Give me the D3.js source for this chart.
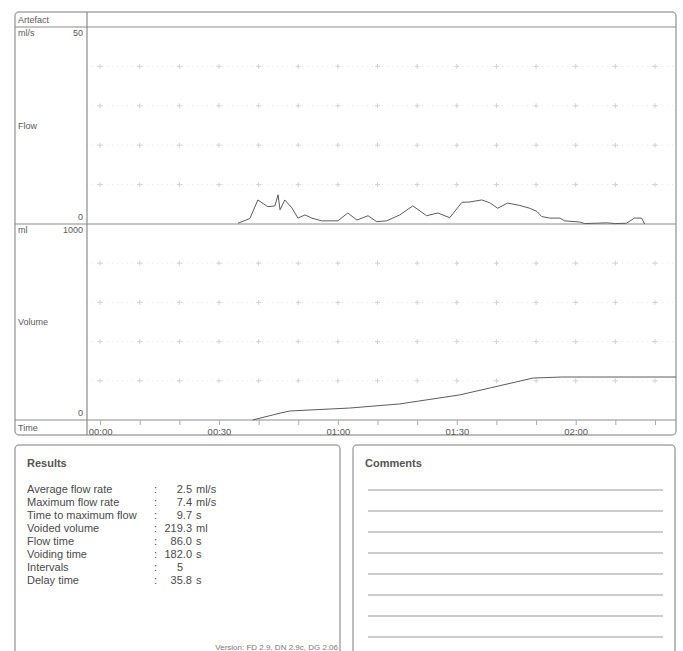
<!DOCTYPE html>
<html>
<head>
<meta charset="utf-8">
<script src="https://cdn.jsdelivr.net/npm/d3@7"></script>
<style>
  body { margin: 0; background: #fff; }
  svg { font-family: "Liberation Sans", Arial, sans-serif; }
</style>
</head>
<body>
<div id="chart"></div>
<script>
// flow curve (s, ml/s)
const flowTime = [34.8, 37.8, 39.8, 42.3, 44.1, 44.9, 45.4, 46.6, 48.4, 49.9, 51.7, 53.4, 55.9, 60.0, 62.5, 64.8, 67.6, 69.8, 72.3, 75.6, 78.9, 82.4, 85.2, 88.2, 91.3, 93.3, 96.3, 98.3, 100.3, 102.8, 105.9, 108.4, 110.2, 111.4, 113.4, 116.0, 117.2, 121.0, 122.3, 127.8, 130.0, 132.8, 134.8, 136.6, 137.4];
const flowRate = [0.2, 1.4, 6.1, 4.4, 4.6, 7.4, 3.6, 6.1, 4.1, 1.5, 2.3, 1.5, 0.8, 0.8, 2.8, 1.0, 2.1, 0.6, 0.8, 2.3, 4.6, 2.1, 2.8, 1.6, 5.5, 5.6, 6.1, 5.4, 4.0, 5.3, 4.7, 4.0, 3.2, 1.9, 1.5, 1.5, 0.8, 0.5, 0.1, 0.3, 0.1, 0.2, 1.5, 1.5, 0];

// voided volume (s, ml)
const volTime = [38.5, 45.4, 47.9, 63.0, 75.6, 90.7, 98.3, 109.2, 116.5, 145.3];
const volValue = [0, 35, 46, 61, 82, 128, 163, 214, 219.3, 219.3];

const timeTicks = d3.range(0, 141, 10);
const flowGrid = [10, 20, 30, 40];
const volGrid = [200, 400, 600, 800];

const resultLabels = ["Average flow rate", "Maximum flow rate", "Time to maximum flow", "Voided volume", "Flow time", "Voiding time", "Intervals", "Delay time"];
const resultValues = ["2.5", "7.4", "9.7", "219.3", "86.0", "182.0", "5", "35.8"];
const resultUnits = ["ml/s", "ml/s", "s", "ml", "s", "s", "", "s"];
const commentLines = 8;

const W = 683, H = 651;
const svg = d3.select("#chart").append("svg").attr("width", W).attr("height", H);

const frameL = 15, frameR = 676, split = 87;
const frameT = 12, artefactY = 27, midY = 224, timeY = 420, frameB = 435;

const x = d3.scaleLinear().domain([-3.3, 145.3]).range([split, frameR]);
const yFlow = d3.scaleLinear().domain([0, 50]).range([midY, artefactY]);
const yVol = d3.scaleLinear().domain([0, 1000]).range([timeY, midY]);

const lineCol = "#8c8c8c", textCol = "#5a5a5a";

// grid: faint dotted rows + small crosses
const grid = svg.append("g");
function gridBlock(scaleY, values) {
  values.forEach(v => {
    grid.append("line")
      .attr("x1", split).attr("x2", frameR)
      .attr("y1", scaleY(v)).attr("y2", scaleY(v))
      .attr("stroke", "#e6e6e6").attr("stroke-dasharray", "1,4");
    timeTicks.forEach(t => {
      const cx = x(t), cy = scaleY(v);
      grid.append("path")
        .attr("d", `M${cx - 2.5},${cy}H${cx + 2.5}M${cx},${cy - 2.5}V${cy + 2.5}`)
        .attr("stroke", "#d2d2d2").attr("stroke-width", 1);
    });
  });
}
gridBlock(yFlow, flowGrid);
gridBlock(yVol, volGrid);

// frame
svg.append("rect")
  .attr("x", frameL).attr("y", frameT).attr("width", frameR - frameL).attr("height", frameB - frameT)
  .attr("rx", 4).attr("fill", "none").attr("stroke", "#a8a8a8").attr("stroke-width", 1.5);
[artefactY, midY, timeY].forEach(yy => {
  svg.append("line").attr("x1", frameL).attr("x2", frameR).attr("y1", yy).attr("y2", yy)
    .attr("stroke", lineCol).attr("stroke-width", 1.2);
});
svg.append("line").attr("x1", split).attr("x2", split).attr("y1", frameT).attr("y2", frameB)
  .attr("stroke", lineCol).attr("stroke-width", 1.2);

// left labels
const lab = svg.append("g").attr("fill", textCol).attr("font-size", 9);
lab.append("text").attr("x", 18).attr("y", 23).text("Artefact");
lab.append("text").attr("x", 18).attr("y", yFlow(50) + 9).text("ml/s");
lab.append("text").attr("x", 83).attr("y", yFlow(50) + 9).attr("text-anchor", "end").text("50");
lab.append("text").attr("x", 18).attr("y", yFlow(25) + 3).text("Flow");
lab.append("text").attr("x", 83).attr("y", yFlow(0) - 4).attr("text-anchor", "end").text("0");
lab.append("text").attr("x", 18).attr("y", yVol(1000) + 9).text("ml");
lab.append("text").attr("x", 83).attr("y", yVol(1000) + 9).attr("text-anchor", "end").text("1000");
lab.append("text").attr("x", 18).attr("y", yVol(500) + 3).text("Volume");
lab.append("text").attr("x", 83).attr("y", yVol(0) - 4).attr("text-anchor", "end").text("0");
lab.append("text").attr("x", 18).attr("y", 431).text("Time");

// time axis
const fmt = t => d3.format("02")(Math.floor(t / 60)) + ":" + d3.format("02")(t % 60);
const axis = svg.append("g").attr("transform", `translate(0,${timeY})`)
  .call(d3.axisBottom(x).tickValues(timeTicks).tickSize(5).tickPadding(3)
    .tickFormat(t => t % 30 === 0 ? fmt(t) : ""));
axis.select(".domain").remove();
axis.selectAll("line").attr("stroke", "#aaa");
axis.selectAll("text").attr("fill", textCol).attr("font-size", 9.5).attr("font-family", "Liberation Sans, Arial");

// curves
const flowData = flowTime.map((t, i) => [t, flowRate[i]]);
const volData = volTime.map((t, i) => [t, volValue[i]]);
svg.append("path").datum(flowData)
  .attr("d", d3.line().x(d => x(d[0])).y(d => yFlow(d[1])))
  .attr("fill", "none").attr("stroke", "#5c5c5c").attr("stroke-width", 1);
svg.append("path").datum(volData)
  .attr("d", d3.line().x(d => x(d[0])).y(d => yVol(d[1])))
  .attr("fill", "none").attr("stroke", "#5c5c5c").attr("stroke-width", 1);

// results box
svg.append("rect").attr("x", 15).attr("y", 445).attr("width", 325).attr("height", 220)
  .attr("rx", 4).attr("fill", "none").attr("stroke", "#a8a8a8").attr("stroke-width", 1.5);
svg.append("text").attr("x", 27).attr("y", 467).attr("font-size", 11).attr("font-weight", "bold")
  .attr("fill", "#555").text("Results");
const res = svg.append("g").attr("fill", "#4a4a4a").attr("font-size", 11);
const rowY = d3.scaleLinear().domain([0, 7]).range([493, 584]);
resultLabels.forEach((l, i) => {
  res.append("text").attr("x", 27).attr("y", rowY(i)).text(l);
  res.append("text").attr("x", 154).attr("y", rowY(i)).text(":");
  const v = resultValues[i];
  res.append("text").attr("x", v.includes(".") ? 192 : 183).attr("y", rowY(i))
    .attr("text-anchor", "end").text(v);
  res.append("text").attr("x", 196).attr("y", rowY(i)).text(resultUnits[i]);
});
svg.append("text").attr("x", 338).attr("y", 650).attr("text-anchor", "end")
  .attr("font-size", 8).attr("fill", "#777").text("Version: FD 2.9, DN 2.9c, DG 2.06");

// comments box
svg.append("rect").attr("x", 353).attr("y", 445).attr("width", 322).attr("height", 220)
  .attr("rx", 4).attr("fill", "none").attr("stroke", "#a8a8a8").attr("stroke-width", 1.5);
svg.append("text").attr("x", 365).attr("y", 467).attr("font-size", 11).attr("font-weight", "bold")
  .attr("fill", "#555").text("Comments");
const lineY = d3.scaleLinear().domain([0, commentLines - 1]).range([490, 637]);
d3.range(commentLines).forEach(i => {
  svg.append("line").attr("x1", 368).attr("x2", 663).attr("y1", lineY(i)).attr("y2", lineY(i))
    .attr("stroke", "#9a9a9a").attr("stroke-width", 1.2);
});
</script>
</body>
</html>
